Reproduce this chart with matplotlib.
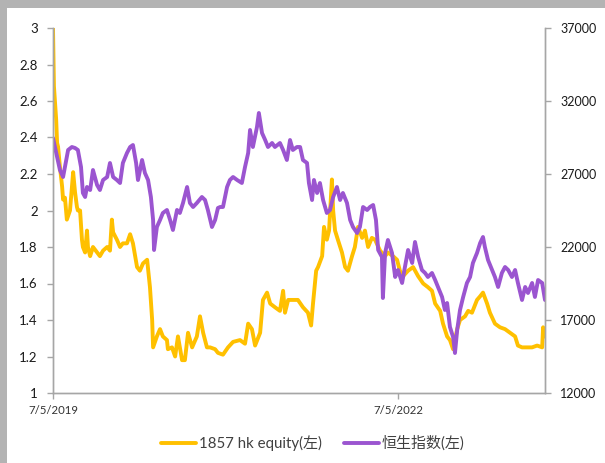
import matplotlib
matplotlib.use("Agg")
import matplotlib.pyplot as plt
from matplotlib.patches import Rectangle
import pandas as pd

plt.rcParams['font.family'] = ['Lato', 'Noto Sans CJK SC', 'DejaVu Sans']

START = "2019-07-05"
END_DAYS = 1563

# 1857 hk equity (left axis): day offsets from 2019-07-05, price
eq_days = [0, 3, 10, 13, 16, 22, 29, 32, 38, 44, 54, 60, 64, 70, 76, 79, 86, 92, 95, 102,
           108, 111, 118, 127, 140, 149, 159, 172, 181, 187, 191, 203, 213, 222, 235, 245,
           254, 267, 276, 286, 299, 308, 315, 318, 330, 340, 349, 362, 365, 378, 388, 397,
           410, 419, 429, 442, 457, 467, 477, 489, 499, 515, 524, 540, 556, 572, 594, 610,
           620, 632, 642, 658, 667, 680, 690, 705, 721, 731, 737, 747, 762, 778, 794, 810,
           820, 826, 836, 842, 855, 861, 870, 877, 886, 890, 896, 905, 918, 928, 937, 950,
           959, 969, 982, 991, 1001, 1013, 1023, 1039, 1055, 1064, 1080, 1093, 1102, 1112,
           1128, 1144, 1160, 1176, 1191, 1204, 1214, 1230, 1239, 1252, 1261, 1271, 1284,
           1293, 1309, 1319, 1331, 1347, 1357, 1366, 1379, 1388, 1404, 1420, 1436, 1452,
           1468, 1477, 1490, 1506, 1522, 1538, 1554, 1557, 1563]
eq_vals = [3.00, 2.68, 2.50, 2.37, 2.35, 2.24, 2.13, 2.06, 2.07, 1.95, 2.00, 2.13, 2.21, 2.10,
           2.02, 2.00, 2.00, 1.84, 1.80, 1.77, 1.89, 1.80, 1.75, 1.80, 1.77, 1.75, 1.78, 1.80,
           1.78, 1.95, 1.88, 1.84, 1.80, 1.82, 1.82, 1.87, 1.82, 1.69, 1.67, 1.71, 1.73, 1.58,
           1.40, 1.25, 1.31, 1.35, 1.31, 1.29, 1.24, 1.25, 1.20, 1.31, 1.18, 1.18, 1.33, 1.25,
           1.31, 1.42, 1.33, 1.25, 1.25, 1.24, 1.22, 1.21, 1.25, 1.28, 1.29, 1.27, 1.38, 1.35,
           1.26, 1.33, 1.51, 1.55, 1.49, 1.47, 1.45, 1.56, 1.44, 1.51, 1.51, 1.51, 1.47, 1.44,
           1.37, 1.49, 1.67, 1.69, 1.75, 1.91, 1.84, 1.89, 2.17, 2.00, 1.89, 1.84, 1.77, 1.69,
           1.67, 1.75, 1.80, 1.91, 1.85, 1.89, 1.80, 1.85, 1.84, 1.78, 1.75, 1.77, 1.75, 1.73,
           1.67, 1.64, 1.67, 1.69, 1.64, 1.60, 1.58, 1.56, 1.49, 1.45, 1.38, 1.31, 1.29, 1.24,
           1.35, 1.40, 1.42, 1.45, 1.44, 1.51, 1.53, 1.55, 1.49, 1.44, 1.38, 1.36, 1.35, 1.33,
           1.31, 1.26, 1.25, 1.25, 1.25, 1.26, 1.25, 1.36, 1.31]

# 恒生指数 (right axis)
hsi_days = [0, 13, 22, 32, 38, 48, 60, 70, 79, 89, 95, 102, 108, 118, 127, 140, 149, 159, 172,
            181, 191, 203, 213, 222, 235, 245, 254, 264, 270, 283, 292, 302, 311, 318, 321,
            330, 340, 349, 362, 372, 381, 394, 403, 413, 426, 435, 445, 457, 473, 483, 492,
            505, 515, 524, 531, 540, 553, 562, 572, 585, 600, 610, 620, 626, 635, 648, 654,
            664, 674, 683, 696, 705, 721, 731, 743, 753, 762, 775, 785, 794, 807, 813, 823,
            829, 839, 848, 858, 870, 880, 890, 902, 912, 921, 934, 944, 953, 966, 975, 985,
            998, 1007, 1017, 1026, 1033, 1045, 1048, 1055, 1064, 1077, 1087, 1096, 1109, 1118,
            1128, 1141, 1150, 1160, 1172, 1182, 1191, 1204, 1214, 1223, 1236, 1245, 1252,
            1261, 1271, 1277, 1284, 1293, 1303, 1315, 1325, 1334, 1347, 1357, 1366, 1372,
            1382, 1395, 1404, 1414, 1426, 1436, 1446, 1458, 1468, 1477, 1490, 1500, 1509,
            1522, 1531, 1541, 1554, 1563]
hsi_vals = [29466, 28165, 27274, 26795, 27480, 28644, 28849, 28781, 28644, 27480, 25699, 25425,
            26110, 25904, 27274, 26247, 25904, 26589, 26795, 27754, 26795, 26589, 26384, 27754,
            28438, 28849, 28986, 27754, 26589, 27959, 27069, 26589, 25425, 23850, 21795, 23370,
            23850, 24329, 24535, 23850, 23165, 24535, 24329, 25014, 26110, 25014, 24740, 25014,
            25425, 25219, 24535, 23370, 23850, 24672, 24740, 24740, 26110, 26589, 26795, 26589,
            26384, 27480, 28438, 30014, 28849, 30219, 31178, 29808, 29329, 28849, 29123, 28849,
            29123, 28644, 27959, 29329, 28644, 28849, 28849, 27959, 27754, 26384, 25219, 26589,
            25699, 26384, 25219, 24329, 24535, 25425, 26110, 25219, 25699, 25014, 23850, 23370,
            22959, 23370, 24740, 24535, 24740, 24877, 23850, 21795, 21316, 18507, 21590, 22480,
            21590, 19946, 20425, 19535, 20630, 21795, 20905, 22343, 21316, 20425, 20220, 19946,
            20220, 19740, 19261, 18576, 17685, 18165, 16521, 15836, 14740, 16316, 17685, 18576,
            19535, 19946, 20905, 21590, 22275, 22685, 22001, 21110, 20425, 19946, 19261, 20220,
            20630, 20425, 19946, 20425, 19535, 18370, 19261, 18850, 19535, 18576, 19740, 19535,
            18370]

tick_days = [0, 1096]
tick_labels = ["7/5/2019", "7/5/2022"]

start = pd.Timestamp(START)
eq_dates = start + pd.to_timedelta(eq_days, unit="D")
hsi_dates = start + pd.to_timedelta(hsi_days, unit="D")

ORANGE = "#FFC000"
PURPLE = "#9B55D0"
SPINE = "#A6A6A6"

fig = plt.figure(figsize=(6.05, 4.63), dpi=100)
fig.patches.append(Rectangle((0, 1 - 8 / 463), 1, 8 / 463, transform=fig.transFigure,
                             facecolor="#B3B3B3", edgecolor="none", zorder=-1))
fig.patches.append(Rectangle((0, 0), 7 / 605, 1, transform=fig.transFigure,
                             facecolor="#B3B3B3", edgecolor="none", zorder=-1))

ax = fig.add_axes([53 / 605, 1 - 393 / 463, (545 - 53) / 605, (393 - 28) / 463])
ax2 = ax.twinx()

l1, = ax.plot(eq_dates, eq_vals, color=ORANGE, lw=2.8, label="1857 hk equity(左)",
              solid_joinstyle="round", solid_capstyle="round")
l2, = ax2.plot(hsi_dates, hsi_vals, color=PURPLE, lw=2.8, label="恒生指数(左)",
               solid_joinstyle="round", solid_capstyle="round")

ax.set_xlim(start, start + pd.Timedelta(days=END_DAYS))
ax.set_ylim(1, 3)
ax.set_yticks([1 + 0.2 * i for i in range(11)])
ax.set_yticklabels(["1", "1.2", "1.4", "1.6", "1.8", "2", "2.2", "2.4", "2.6", "2.8", "3"])
ax2.set_ylim(12000, 37000)
ax2.set_yticks(range(12000, 37001, 5000))

ax.set_xticks(start + pd.to_timedelta(tick_days, unit="D"))
ax.set_xticklabels(tick_labels, fontsize=8.2, color="#333333")

for a in (ax, ax2):
    for s in a.spines.values():
        s.set_color(SPINE)
        s.set_linewidth(1.0)
    a.spines["top"].set_visible(False)

ax.tick_params(axis="y", length=4, width=1, color=SPINE, pad=7, labelsize=9.5,
               labelcolor="#1a1a1a")
ax2.tick_params(axis="y", length=4, width=1, color=SPINE, pad=7, labelsize=9,
                labelcolor="#1a1a1a")
ax.tick_params(axis="x", length=4, width=1, color=SPINE, pad=5)

fig.legend(handles=[l1, l2], loc="center", bbox_to_anchor=(313 / 605, 1 - 443 / 463),
           ncol=2, frameon=False, fontsize=10.8, handlelength=2.3, handletextpad=0.2,
           columnspacing=1.5, labelcolor="#404040")

fig.savefig("out.png", dpi=100)
